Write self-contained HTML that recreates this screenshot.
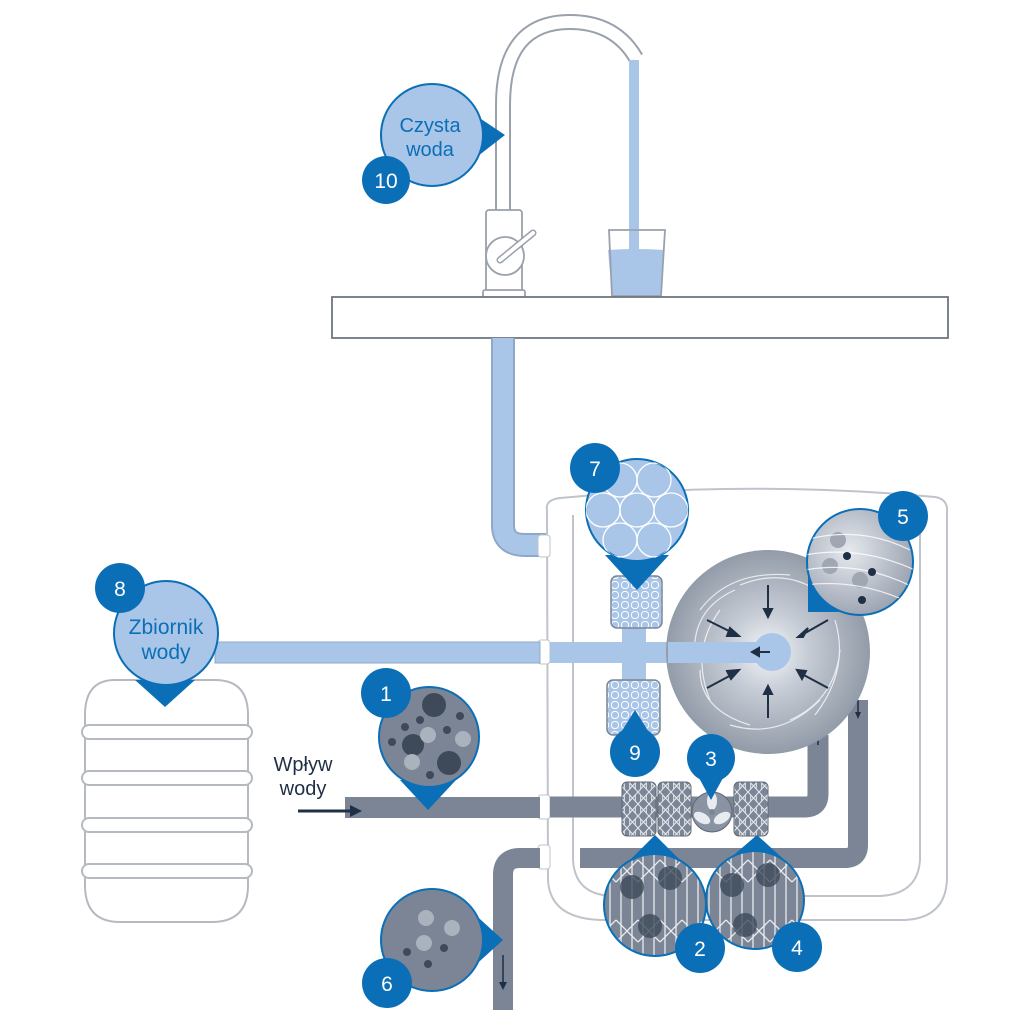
<!DOCTYPE html>
<html><head><meta charset="utf-8"><style>
html,body{margin:0;padding:0;background:#fff}
svg{display:block}
text{font-family:"Liberation Sans",sans-serif}
</style></head><body>
<svg width="1024" height="1024" viewBox="0 0 1024 1024" xmlns="http://www.w3.org/2000/svg">
<defs>
<pattern id="grid" width="10" height="10" patternUnits="userSpaceOnUse">
<rect width="10" height="10" fill="#a9c6e8"/>
<rect x="1.5" y="1.5" width="7" height="7" rx="3" fill="none" stroke="#fff" stroke-width="1"/>
</pattern>
<pattern id="mesh" width="11" height="12" patternUnits="userSpaceOnUse">
<rect width="11" height="12" fill="#7b8595"/>
<path d="M0 0L5.5 6L11 0M0 12L5.5 6L11 12M2.7 3V9M8.3 3V9" stroke="#e8ecf0" stroke-width="1" fill="none"/>
</pattern>
<pattern id="bigmesh" width="22" height="60" patternUnits="userSpaceOnUse">
<rect width="22" height="60" fill="#7b8595"/>
<path d="M5 0V60M16 0V60" stroke="#e8ecf0" stroke-width="1.3"/>
<path d="M0 20L11 31L22 20M0 42L11 31L22 42" stroke="#e8ecf0" stroke-width="1.3" fill="none"/>
</pattern>
<radialGradient id="sph" cx="0.5" cy="0.5" r="0.55">
<stop offset="0" stop-color="#f4f6f9"/><stop offset="0.35" stop-color="#c7cdd6"/><stop offset="1" stop-color="#8a93a1"/>
</radialGradient>
<radialGradient id="sph5" cx="0.4" cy="0.4" r="0.7">
<stop offset="0" stop-color="#e6e9ee"/><stop offset="1" stop-color="#939cab"/>
</radialGradient>
<clipPath id="c7"><circle cx="637" cy="510" r="51"/></clipPath>
<clipPath id="c5"><circle cx="860" cy="562" r="53"/></clipPath>
<clipPath id="c2"><circle cx="655" cy="905" r="51"/></clipPath>
<clipPath id="c4"><circle cx="755" cy="900" r="49"/></clipPath>
</defs>

<!-- faucet -->
<path d="M503 212 V105 Q503 22 570 22 Q615 22 636 58" fill="none" stroke="#9aa1ac" stroke-width="16"/>
<path d="M503 212 V105 Q503 22 570 22 Q615 22 636 58" fill="none" stroke="#fff" stroke-width="12"/>
<rect x="629" y="60" width="10" height="232" fill="#a9c6e8"/>
<rect x="486" y="210" width="36" height="82" rx="3" fill="#fff" stroke="#9aa1ac" stroke-width="1.8"/>
<rect x="483" y="290" width="42" height="8" rx="2" fill="#fff" stroke="#9aa1ac" stroke-width="1.8"/>
<circle cx="505" cy="256" r="19" fill="#fff" stroke="#9aa1ac" stroke-width="1.8"/>
<path d="M500 260 L533 233" stroke="#9aa1ac" stroke-width="7" stroke-linecap="round"/>
<path d="M500 260 L533 233" stroke="#fff" stroke-width="4" stroke-linecap="round"/>
<path d="M608 250 Q636 248 664 250 L661 296 H612 Z" fill="#a9c6e8"/>
<path d="M609 230 H665 L661 296 H612 Z" fill="none" stroke="#9aa1ac" stroke-width="1.8"/>
<!-- counter -->
<rect x="332" y="297" width="616" height="41" fill="#fff" stroke="#6e7682" stroke-width="1.8"/>

<!-- light pipe down from counter -->
<path d="M503 338 V525 Q503 545 525 545 H560" fill="none" stroke="#8ea9c8" stroke-width="24"/>
<path d="M503 338 V525 Q503 545 525 545 H560" fill="none" stroke="#a9c6e8" stroke-width="20"/>

<!-- housing -->
<path d="M547 510 Q545 500 560 498 Q750 480 935 497 Q948 499 947 512 V880 Q945 918 905 920 H600 Q550 918 548 880 Z" fill="#fff" stroke="#bfc4cb" stroke-width="2"/>
<path d="M573 515 V860 Q575 896 615 896 H880 Q918 894 920 860 V515" fill="none" stroke="#bfc4cb" stroke-width="2"/>
<rect x="538" y="535" width="12" height="22" rx="3" fill="#fff" stroke="#bfc4cb"/>
<rect x="538" y="640" width="12" height="24" rx="3" fill="#fff" stroke="#bfc4cb"/>
<rect x="538" y="795" width="12" height="24" rx="3" fill="#fff" stroke="#bfc4cb"/>
<rect x="538" y="845" width="12" height="24" rx="3" fill="#fff" stroke="#bfc4cb"/>

<!-- light pipe from tank -->
<rect x="215" y="642" width="325" height="21" fill="#a9c6e8" stroke="#8ea9c8"/>
<rect x="550" y="642" width="220" height="21" fill="#a9c6e8"/>
<rect x="622" y="620" width="24" height="70" fill="#a9c6e8"/>

<!-- grey pipes -->
<rect x="345" y="797" width="195" height="21" fill="#7b8595"/>
<path d="M550 807 H805 Q818 807 818 794 V735" fill="none" stroke="#7b8595" stroke-width="21"/>
<path d="M503 1010 V875 Q503 858 520 858 H540" fill="none" stroke="#7b8595" stroke-width="20"/>
<path d="M580 858 H845 Q858 858 858 845 V700" fill="none" stroke="#7b8595" stroke-width="20"/>
<path d="M298 811 H355" stroke="#1f2f45" stroke-width="3"/>
<path d="M350 805 L362 811 L350 817 Z" fill="#1f2f45"/>
<path d="M503 955 V985" stroke="#1f2f45" stroke-width="1.5"/><path d="M499 982 L503 990 L507 982Z" fill="#1f2f45"/>
<path d="M858 700 V715" stroke="#1f2f45" stroke-width="1.5"/><path d="M855 712 L858 719 L861 712Z" fill="#1f2f45"/>
<path d="M818 745 V735" stroke="#1f2f45" stroke-width="1.5"/><path d="M815 738 L818 731 L821 738Z" fill="#1f2f45"/>

<!-- sphere -->
<circle cx="768" cy="652" r="102" fill="url(#sph)"/>
<g stroke="#fff" stroke-width="1.2" fill="none" opacity="0.75">
<path d="M700 610 Q730 570 790 575"/><path d="M710 700 Q690 650 720 610"/><path d="M820 700 Q780 740 730 725"/>
<path d="M835 620 Q850 670 815 715"/><path d="M740 585 Q790 565 830 600"/><path d="M695 660 Q690 610 735 590"/>
<path d="M750 725 Q700 710 700 670"/><path d="M840 650 Q835 700 790 720"/>
</g>
<rect x="668" y="642" width="100" height="21" fill="#a9c6e8"/>
<circle cx="772" cy="652" r="19" fill="#a9c6e8"/>
<g stroke="#1f2f45" stroke-width="2" fill="#1f2f45">
<path d="M768 585 V613"/><path d="M764 609 L768 617 L772 609Z"/>
<path d="M768 718 V690"/><path d="M764 694 L768 686 L772 694Z"/>
<path d="M707 620 L735 634"/><path d="M730 628 L739 636 L727 636Z"/>
<path d="M707 688 L735 673"/><path d="M727 671 L739 670 L731 679Z"/>
<path d="M828 620 L800 636"/><path d="M808 628 L798 637 L803 637Z"/>
<path d="M828 688 L800 673"/><path d="M806 671 L797 670 L802 679Z"/>
<path d="M770 652 H755"/><path d="M759 648 L752 652 L759 656Z"/>
</g>

<!-- filter blocks -->
<rect x="611" y="576" width="51" height="52" rx="6" fill="url(#grid)" stroke="#7b8595" stroke-width="1.5"/>
<rect x="607" y="680" width="53" height="55" rx="6" fill="url(#grid)" stroke="#7b8595" stroke-width="1.5"/>
<rect x="622" y="782" width="34" height="54" rx="5" fill="url(#mesh)" stroke="#5f6875"/>
<rect x="658" y="782" width="33" height="54" rx="5" fill="url(#mesh)" stroke="#5f6875"/>
<rect x="734" y="782" width="34" height="54" rx="5" fill="url(#mesh)" stroke="#5f6875"/>
<circle cx="712" cy="812" r="20" fill="#8a93a1" stroke="#5f6875"/>
<g fill="#e8ecf0"><ellipse cx="712" cy="801" rx="5" ry="9"/><ellipse cx="702" cy="818" rx="9" ry="5" transform="rotate(30 702 818)"/><ellipse cx="722" cy="818" rx="9" ry="5" transform="rotate(-30 722 818)"/></g>
<circle cx="712" cy="812" r="3" fill="#7b8595"/>

<!-- tank -->
<path d="M115 680 H215 Q248 680 248 715 V885 Q248 922 212 922 H120 Q85 922 85 885 V715 Q85 680 115 680Z" fill="#fff" stroke="#b5bac1" stroke-width="2"/>
<g fill="#fff" stroke="#b5bac1" stroke-width="2">
<rect x="82" y="725" width="170" height="14" rx="7"/><rect x="82" y="771" width="170" height="14" rx="7"/>
<rect x="82" y="818" width="170" height="14" rx="7"/><rect x="82" y="864" width="170" height="14" rx="7"/>
</g>

<!-- callout 10 -->
<path d="M460 105 L505 135 L460 170Z" fill="#0b6fb8"/>
<circle cx="432" cy="135" r="51" fill="#a9c6e8" stroke="#0b6fb8" stroke-width="2"/>
<text x="430" y="132" font-size="20" fill="#0b6fb8" text-anchor="middle">Czysta</text>
<text x="430" y="156" font-size="20" fill="#0b6fb8" text-anchor="middle">woda</text>
<circle cx="386" cy="180" r="24" fill="#0b6fb8"/>
<text x="386" y="188" font-size="21" fill="#fff" text-anchor="middle">10</text>

<!-- callout 8 -->
<path d="M135 680 L165 707 L195 680Z" fill="#0b6fb8"/>
<circle cx="166" cy="633" r="52" fill="#a9c6e8" stroke="#0b6fb8" stroke-width="2"/>
<text x="166" y="634" font-size="21" fill="#0b6fb8" text-anchor="middle">Zbiornik</text>
<text x="166" y="659" font-size="21" fill="#0b6fb8" text-anchor="middle">wody</text>
<circle cx="120" cy="588" r="25" fill="#0b6fb8"/>
<text x="120" y="596" font-size="21" fill="#fff" text-anchor="middle">8</text>

<!-- callout 1 -->
<path d="M400 780 L428 810 L456 780Z" fill="#0b6fb8"/>
<circle cx="429" cy="737" r="50" fill="#7b8595" stroke="#0b6fb8" stroke-width="2"/>
<g fill="#3e4a5a"><circle cx="434" cy="705" r="12"/><circle cx="413" cy="745" r="11"/><circle cx="449" cy="763" r="12"/>
<circle cx="392" cy="742" r="4"/><circle cx="405" cy="727" r="4"/><circle cx="420" cy="720" r="4"/><circle cx="447" cy="730" r="4"/><circle cx="460" cy="716" r="4"/><circle cx="430" cy="775" r="4"/></g>
<g fill="#aab2bd"><circle cx="428" cy="735" r="8"/><circle cx="463" cy="739" r="8"/><circle cx="412" cy="762" r="8"/></g>
<circle cx="386" cy="693" r="25" fill="#0b6fb8"/>
<text x="386" y="701" font-size="21" fill="#fff" text-anchor="middle">1</text>

<!-- Wplyw wody -->
<text x="303" y="771" font-size="20" fill="#1f2f45" text-anchor="middle">Wpływ</text>
<text x="303" y="795" font-size="20" fill="#1f2f45" text-anchor="middle">wody</text>

<!-- callout 6 -->
<path d="M470 910 L503 940 L470 970Z" fill="#0b6fb8"/>
<circle cx="432" cy="940" r="51" fill="#7b8595" stroke="#0b6fb8" stroke-width="2"/>
<g fill="#aab2bd"><circle cx="426" cy="918" r="8"/><circle cx="452" cy="928" r="8"/><circle cx="424" cy="943" r="8"/></g>
<g fill="#3e4a5a"><circle cx="407" cy="952" r="4"/><circle cx="444" cy="948" r="4"/><circle cx="428" cy="964" r="4"/></g>
<circle cx="387" cy="983" r="25" fill="#0b6fb8"/>
<text x="387" y="991" font-size="21" fill="#fff" text-anchor="middle">6</text>

<!-- callout 7 -->
<path d="M605 555 L637 590 L669 555Z" fill="#0b6fb8"/>
<circle cx="637" cy="510" r="51" fill="#a9c6e8" stroke="#0b6fb8" stroke-width="2"/>
<g clip-path="url(#c7)" fill="none" stroke="#fff" stroke-width="1.3">
<circle cx="637" cy="510" r="17"/><circle cx="603" cy="510" r="17"/><circle cx="671" cy="510" r="17"/>
<circle cx="620" cy="480" r="17"/><circle cx="654" cy="480" r="17"/><circle cx="620" cy="540" r="17"/><circle cx="654" cy="540" r="17"/>
</g>
<circle cx="595" cy="468" r="25" fill="#0b6fb8"/>
<text x="595" y="476" font-size="21" fill="#fff" text-anchor="middle">7</text>

<!-- callout 5 -->
<path d="M808 570 L808 612 L850 612Z" fill="#0b6fb8"/>
<circle cx="860" cy="562" r="53" fill="url(#sph5)" stroke="#0b6fb8" stroke-width="2"/>
<g clip-path="url(#c5)">
<g fill="#a0a7b2"><circle cx="838" cy="540" r="8"/><circle cx="830" cy="566" r="8"/><circle cx="860" cy="580" r="8"/></g>
<g fill="none" stroke="#fff" stroke-width="1.2" opacity="0.8"><path d="M805 540 Q860 525 910 550"/><path d="M805 555 Q860 545 915 570"/><path d="M805 570 Q860 560 915 588"/><path d="M805 585 Q860 578 915 605"/></g>
<g fill="#1f2f45"><circle cx="847" cy="556" r="4"/><circle cx="872" cy="572" r="4"/><circle cx="862" cy="600" r="4"/></g>
</g>
<circle cx="903" cy="516" r="25" fill="#0b6fb8"/>
<text x="903" y="524" font-size="21" fill="#fff" text-anchor="middle">5</text>

<!-- 9 -->
<path d="M615 742 L635 710 L655 742Z" fill="#0b6fb8"/>
<circle cx="635" cy="752" r="25" fill="#0b6fb8"/>
<text x="635" y="760" font-size="21" fill="#fff" text-anchor="middle">9</text>
<!-- 3 -->
<path d="M692 765 L711 800 L730 765Z" fill="#0b6fb8"/>
<circle cx="711" cy="758" r="24" fill="#0b6fb8"/>
<text x="711" y="766" font-size="21" fill="#fff" text-anchor="middle">3</text>

<!-- callout 2 -->
<path d="M620 870 L655 835 L690 870Z" fill="#0b6fb8"/>
<circle cx="655" cy="905" r="51" fill="url(#bigmesh)" stroke="#0b6fb8" stroke-width="2"/>
<g clip-path="url(#c2)" fill="#3e4a5a" opacity="0.8"><circle cx="632" cy="887" r="12"/><circle cx="670" cy="878" r="12"/><circle cx="650" cy="926" r="12"/></g>
<circle cx="700" cy="948" r="25" fill="#0b6fb8"/>
<text x="700" y="956" font-size="21" fill="#fff" text-anchor="middle">2</text>
<!-- callout 4 -->
<path d="M722 865 L757 835 L790 865Z" fill="#0b6fb8"/>
<circle cx="755" cy="900" r="49" fill="url(#bigmesh)" stroke="#0b6fb8" stroke-width="2"/>
<g clip-path="url(#c4)" fill="#3e4a5a" opacity="0.8"><circle cx="732" cy="885" r="12"/><circle cx="768" cy="875" r="12"/><circle cx="745" cy="925" r="12"/></g>
<circle cx="797" cy="947" r="25" fill="#0b6fb8"/>
<text x="797" y="955" font-size="21" fill="#fff" text-anchor="middle">4</text>
</svg>
</body></html>
